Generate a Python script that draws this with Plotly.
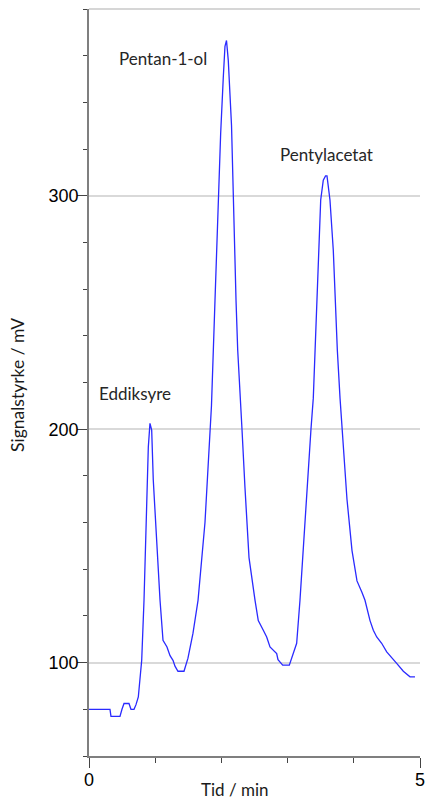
import plotly.graph_objects as go

# Time (min) and signal (mV)
tid = [0.000, 0.166, 0.317, 0.332, 0.468, 0.498, 0.529, 0.604, 0.634, 0.680,
       0.710, 0.745, 0.796, 0.831, 0.872, 0.896, 0.921, 0.947, 0.971, 1.023,
       1.073, 1.118, 1.178, 1.224, 1.269, 1.299, 1.344, 1.435, 1.465, 1.495,
       1.571, 1.647, 1.752, 1.813, 1.850, 1.903, 1.929, 1.968, 1.989, 2.029,
       2.054, 2.077, 2.104, 2.153, 2.172, 2.195, 2.221, 2.246, 2.281, 2.311,
       2.356, 2.417, 2.508, 2.557, 2.633, 2.684, 2.734, 2.835, 2.855, 2.926,
       3.026, 3.062, 3.137, 3.187, 3.233, 3.293, 3.353, 3.388, 3.414, 3.440,
       3.464, 3.500, 3.539, 3.573, 3.595, 3.640, 3.690, 3.716, 3.751, 3.792,
       3.822, 3.897, 3.973, 4.048, 4.124, 4.169, 4.245, 4.295, 4.346, 4.421,
       4.497, 4.573, 4.648, 4.748, 4.849, 4.924]
signal = [80.0, 80.0, 80.0, 77.0, 77.0, 80.0, 82.5, 82.5, 80.0, 80.0,
          82.0, 85.3, 101.0, 126.7, 164.0, 192.4, 202.5, 199.6, 178.2, 149.6,
          126.7, 109.6, 106.7, 103.0, 101.0, 98.5, 96.3, 96.3, 99.0, 101.9,
          112.6, 126.7, 160.0, 190.0, 210.0, 255.0, 276.8, 305.0, 326.8, 351.0,
          364.0, 366.5, 358.0, 330.0, 306.7, 276.8, 255.0, 234.0, 213.0, 200.0,
          175.0, 145.0, 126.7, 118.0, 113.9, 111.0, 106.7, 103.9, 101.3, 98.9,
          98.9, 101.9, 108.3, 126.7, 148.0, 175.0, 200.0, 213.3, 233.9, 255.3,
          276.8, 298.2, 306.7, 308.5, 308.5, 298.2, 276.8, 255.3, 233.9, 213.3,
          200.0, 170.0, 148.0, 135.0, 130.0, 126.7, 118.0, 113.9, 111.0, 108.3,
          104.6, 101.9, 99.7, 96.3, 93.9, 93.9]

peak_names = ["Pentan-1-ol", "Pentylacetat", "Eddiksyre"]
peak_label_x = [1.12, 3.58, 0.69]
peak_label_y = [358.6, 317.5, 215.5]

x_ticks = [0, 5]
y_ticks = [100, 200, 300]

fig = go.Figure()
fig.add_trace(go.Scatter(x=tid, y=signal, mode="lines",
                         line=dict(color="#2a2aff", width=1.3),
                         showlegend=False, hoverinfo="skip"))

for name, lx, ly in zip(peak_names, peak_label_x, peak_label_y):
    fig.add_annotation(x=lx, y=ly, text=name, showarrow=False,
                       xanchor="center", yanchor="middle",
                       font=dict(family="Lato", size=17, color="#262626"))

# axis titles
fig.add_annotation(xref="paper", yref="paper", x=0.4396, y=-0.0442,
                   text="Tid / min", showarrow=False,
                   xanchor="center", yanchor="middle",
                   font=dict(family="Lato", size=17, color="#1a1a1a"))
fig.add_annotation(xref="paper", yref="paper", x=-0.2145, y=0.4967,
                   text="Signalstyrke / mV", showarrow=False, textangle=-90,
                   xanchor="center", yanchor="middle",
                   font=dict(family="Lato", size=17.5, color="#1a1a1a"))

fig.add_shape(type="line", xref="paper", yref="paper", x0=0, x1=1, y0=1, y1=1,
              line=dict(color="#c8c8c8", width=1.5))

fig.update_layout(
    width=427, height=801,
    margin=dict(l=89, r=7, t=9, b=45),
    paper_bgcolor="white", plot_bgcolor="white",
    xaxis=dict(range=[0, 5], tickvals=x_ticks, ticks="outside", ticklen=10,
               tickcolor="#444444", tickwidth=1.2, automargin=False,
               ticklabelstandoff=-3,
               showline=True, linecolor="#7f7f7f", linewidth=1.5,
               showgrid=True, gridcolor="#c8c8c8", gridwidth=1.5, zeroline=False,
               minor=dict(dtick=1, tick0=0, ticks="outside", ticklen=5,
                          tickcolor="#444444", tickwidth=1.2, showgrid=False),
               tickfont=dict(family="Liberation Sans", size=18, color="black")),
    yaxis=dict(range=[60, 380], tickvals=y_ticks, ticks="outside", ticklen=10,
               tickcolor="#444444", tickwidth=1.2, automargin=False,
               ticklabelstandoff=-5,
               showline=True, linecolor="#7f7f7f", linewidth=1.5,
               showgrid=True, gridcolor="#d9d9d9", gridwidth=1.5, zeroline=False,
               minor=dict(dtick=20, tick0=0, ticks="outside", ticklen=4,
                          tickcolor="#444444", tickwidth=1.2, showgrid=False),
               tickfont=dict(family="Liberation Sans", size=18, color="black")),
)

fig.write_html("out.html", config={"displayModeBar": False},
               post_script="document.body.style.margin='0';document.body.style.overflow='hidden';")
